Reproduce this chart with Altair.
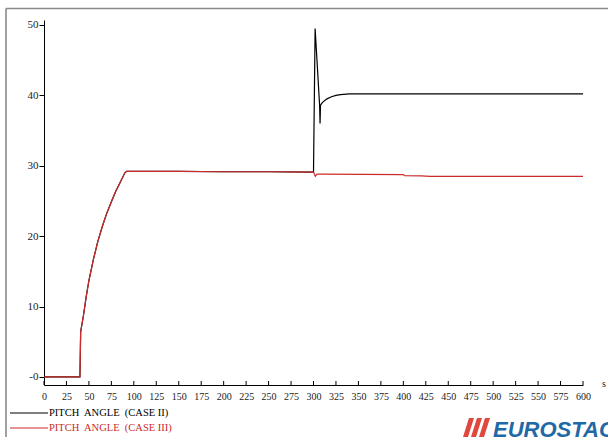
import altair as alt
import pandas as pd

# ---- data ----
t_case2 = [0, 40, 40.8, 44, 47, 50, 55, 60, 65, 70, 75, 80, 85, 90, 92, 150, 200, 250, 300,
           301.8, 306.8, 307.3, 307.8, 310, 315, 320, 325, 330, 340, 400, 600]
v_case2 = [0, 0, 6.4, 8.8, 11.4, 13.7, 16.7, 19.3, 21.4, 23.3, 24.9, 26.4, 27.7, 29.0, 29.2, 29.2, 29.15, 29.15, 29.1,
           49.5, 38.6, 36.0, 38.6, 39.0, 39.5, 39.8, 40.0, 40.1, 40.2, 40.2, 40.2]

t_case3 = [0, 40, 40.8, 44, 47, 50, 55, 60, 65, 70, 75, 80, 85, 90, 92, 150, 200, 250, 300,
           300.8, 302, 304, 310, 400, 401.5, 420, 430, 600]
v_case3 = [0, 0, 6.4, 8.8, 11.4, 13.7, 16.7, 19.3, 21.4, 23.3, 24.9, 26.4, 27.7, 29.0, 29.2, 29.2, 29.15, 29.15, 29.1,
           28.9, 28.5, 28.8, 28.8, 28.75, 28.6, 28.55, 28.5, 28.5]

x_ticks = list(range(0, 601, 25))
y_ticks = [0, 10, 20, 30, 40, 50]
legend_labels = ["PITCH\u00a0 ANGLE\u00a0 (CASE II)", "PITCH\u00a0 ANGLE\u00a0 (CASE III)"]
colors = ["#000000", "#cc2b2b"]

df2 = pd.DataFrame({"t": t_case2, "v": v_case2})
df3 = pd.DataFrame({"t": t_case3, "v": v_case3})
tick_df = pd.DataFrame({"t": x_ticks})
one = pd.DataFrame({"a": [0]})

SERIF = "Liberation Serif"

xscale = alt.Scale(domain=[0, 600], nice=False, zero=False)
yscale = alt.Scale(domain=[-1.14, 50.7], nice=False, zero=False)

xaxis = alt.Axis(values=x_ticks, tickSize=0, labelPadding=6, domainColor="#000", domainWidth=1,
                 labelFont=SERIF, labelFontSize=10, labelColor="#222", grid=False, title=None,
                 labelFlush=False, labelOverlap=False)
yaxis = alt.Axis(values=y_ticks, tickSize=5, tickColor="#000", labelPadding=1, domainColor="#000",
                 domainWidth=1, labelFont=SERIF, labelFontSize=11, labelColor="#222", grid=False,
                 title=None, labelExpr="datum.value == 0 ? '-0' : datum.label")

line2 = alt.Chart(df2).mark_line(color=colors[0], strokeWidth=1.2).encode(
    x=alt.X("t:Q", scale=xscale, axis=xaxis),
    y=alt.Y("v:Q", scale=yscale, axis=yaxis),
)
line3 = alt.Chart(df3).mark_line(color=colors[1], strokeWidth=1.2).encode(
    x=alt.X("t:Q", scale=xscale, axis=xaxis),
    y=alt.Y("v:Q", scale=yscale, axis=yaxis),
)

xticks = alt.Chart(tick_df).mark_rule(color="#000", strokeWidth=1).encode(
    x=alt.X("t:Q", scale=xscale, axis=xaxis), y=alt.value(365), y2=alt.value(361)
)

# frame
frame_top = alt.Chart(one).mark_rule(color="#8a8a8a", strokeWidth=1.6).encode(
    x=alt.value(-38), x2=alt.value(570), y=alt.value(-11.5)
)
frame_left = alt.Chart(one).mark_rule(color="#8a8a8a", strokeWidth=1.6).encode(
    x=alt.value(-38), y=alt.value(-11.5), y2=alt.value(420)
)

s_label = alt.Chart(one).mark_text(text="s", font=SERIF, fontSize=10, color="#222",
                                   align="center", baseline="middle").encode(
    x=alt.value(560), y=alt.value(364)
)

# legend
leg = []
for i, (lab, col) in enumerate(zip(legend_labels, colors)):
    yy = 393 + i * 15
    leg.append(alt.Chart(one).mark_rule(color=col, strokeWidth=1.2).encode(
        x=alt.value(-34), x2=alt.value(4), y=alt.value(yy)))
    leg.append(alt.Chart(one).mark_text(text=lab, font=SERIF, fontSize=10.5, color=col,
                                        align="left", baseline="middle").encode(
        x=alt.value(5), y=alt.value(yy)))

# logo
bars_path = ("M-1,0.7L-0.63,0.7L-0.185,-0.7L-0.556,-0.7Z"
             "M-0.407,0.7L-0.037,0.7L0.407,-0.7L0.037,-0.7Z"
             "M0.185,0.7L0.556,0.7L1,-0.7L0.63,-0.7Z")
logo_bars = alt.Chart(one).mark_point(shape=bars_path, filled=True, color="#e0473d",
                                      opacity=1, strokeWidth=0, size=729).encode(
    x=alt.value(432.5), y=alt.value(407.5)
)
logo_text = alt.Chart(one).mark_text(text="EUROSTAG", font="Liberation Sans",
                                     fontSize=22, fontWeight="bold", fontStyle="italic",
                                     color="#1f69a6", align="left", baseline="alphabetic").encode(
    x=alt.value(449), y=alt.value(417)
)

chart = alt.layer(
    frame_top, frame_left, line2, line3, xticks, s_label, *leg, logo_bars, logo_text
).properties(
    width=539, height=365,
    padding={"left": 44, "top": 20, "right": 25, "bottom": 52},
    autosize=alt.AutoSizeParams(type="none"),
    background="white",
).configure_view(stroke=None)

chart.save("out.html", embed_options={"renderer": "svg", "actions": False})
